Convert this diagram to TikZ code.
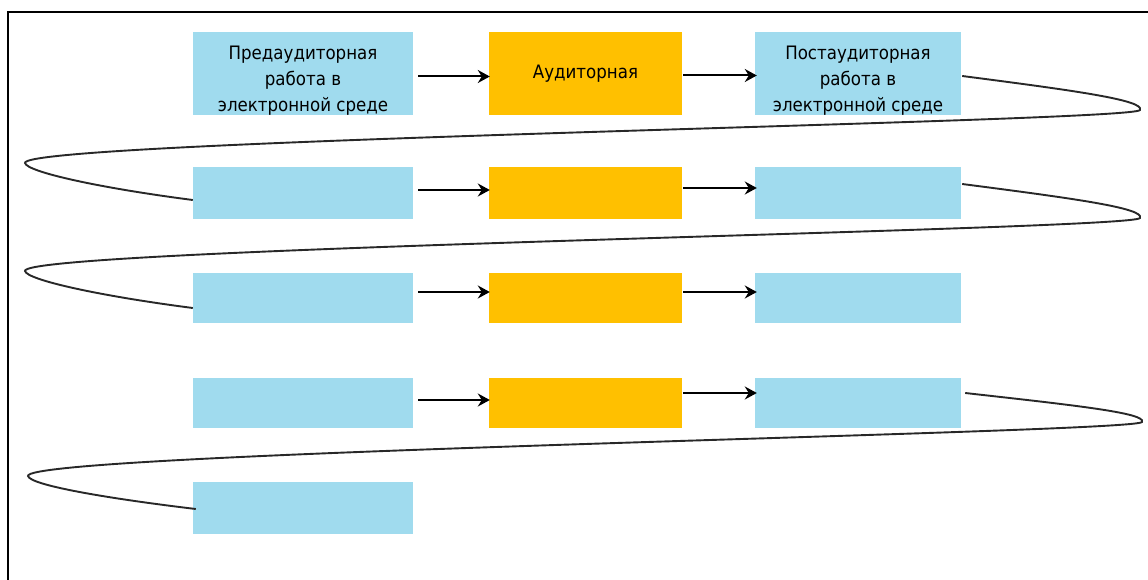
\documentclass[tikz,border=0pt]{standalone}
\usepackage{fontspec}
\setmainfont{DejaVu Sans Condensed}
\usetikzlibrary{arrows.meta,calc}
\definecolor{boxblue}{RGB}{160,219,238}
\definecolor{boxgold}{RGB}{255,192,0}
\definecolor{curvegray}{RGB}{40,40,40}
\begin{document}
\begin{tikzpicture}[x=1pt,y=-1pt,
  blockbase/.style={draw=none, inner sep=0pt, align=center, text=black,
    font=\fontsize{18.5}{26}\selectfont},
  bluebox/.style={blockbase, fill=boxblue},
  goldbox/.style={blockbase, fill=boxgold},
  wl/.style={minimum width=220pt},
  wm/.style={minimum width=193pt},
  wr/.style={minimum width=206pt},
  arr/.style={line width=2pt, black, -{Stealth[length=12pt,width=13pt,inset=4pt]}},
  loopline/.style={line width=1.9pt, curvegray}]
\useasboundingbox (0,0) rectangle (1148,580);
% frame
\draw[line width=2pt] (8,580) -- (8,12) -- (1148,12);
% row 1
\node[bluebox, wl, minimum height=83pt] (a1) at (303,73.5) {\rule{0pt}{27pt}Предаудиторная\\работа в\\электронной среде};
\node[goldbox, wm, minimum height=83pt] (b1) at (585.5,73.5) {Аудиторная};
\node[bluebox, wr, minimum height=83pt] (c1) at (858,73.5) {\rule{0pt}{27pt}Постаудиторная\\работа в\\электронной среде};
% row 2
\node[bluebox, wl, minimum height=52pt] (a2) at (303,193) {};
\node[goldbox, wm, minimum height=52pt] (b2) at (585.5,193) {};
\node[bluebox, wr, minimum height=52pt] (c2) at (858,193) {};
% row 3
\node[bluebox, wl, minimum height=50pt] (a3) at (303,298) {};
\node[goldbox, wm, minimum height=50pt] (b3) at (585.5,298) {};
\node[bluebox, wr, minimum height=50pt] (c3) at (858,298) {};
% row 4
\node[bluebox, wl, minimum height=50pt] (a4) at (303,403) {};
\node[goldbox, wm, minimum height=50pt] (b4) at (585.5,403) {};
\node[bluebox, wr, minimum height=50pt] (c4) at (858,403) {};
% row 5
\node[bluebox, wl, minimum height=52pt] (a5) at (303,508) {};
% arrows
\draw[arr] ($(a1.east)+(5,3)$) -- ($(b1.west)+(1,3)$);
\draw[arr] ($(b1.east)+(1,2)$) -- ($(c1.west)+(2,2)$);
\draw[arr] ($(a2.east)+(5,-3)$) -- ($(b2.west)+(1,-3)$);
\draw[arr] ($(b2.east)+(1,-5)$) -- ($(c2.west)+(2,-5)$);
\draw[arr] ($(a3.east)+(5,-6)$) -- ($(b3.west)+(1,-6)$);
\draw[arr] ($(b3.east)+(1,-6)$) -- ($(c3.west)+(2,-6)$);
\draw[arr] ($(a4.east)+(5,-3)$) -- ($(b4.west)+(1,-3)$);
\draw[arr] ($(b4.east)+(1,-10)$) -- ($(c4.west)+(2,-10)$);
% serpentine connectors
\draw[loopline] ($(c1.east)+(1,2.5)$) .. controls (1070,90) and (1145,100) .. (1140,110)
  .. controls (1135,122) and (20,140) .. (25,163)
  .. controls (27,172) and (100,188) .. ($(a2.west)+(0,7)$);
\draw[loopline] ($(c2.east)+(1,-9)$) .. controls (1070,198) and (1145,208) .. (1140,218)
  .. controls (1135,230) and (20,248) .. (25,271)
  .. controls (27,280) and (100,296) .. ($(a3.west)+(0,10)$);
\draw[loopline] ($(c4.east)+(4,-10)$) .. controls (1072,405) and (1147,413) .. (1142,422)
  .. controls (1137,433) and (24,452) .. (28,476)
  .. controls (30,485) and (104,498) .. ($(a5.west)+(3,1)$);
\end{tikzpicture}
\end{document}
